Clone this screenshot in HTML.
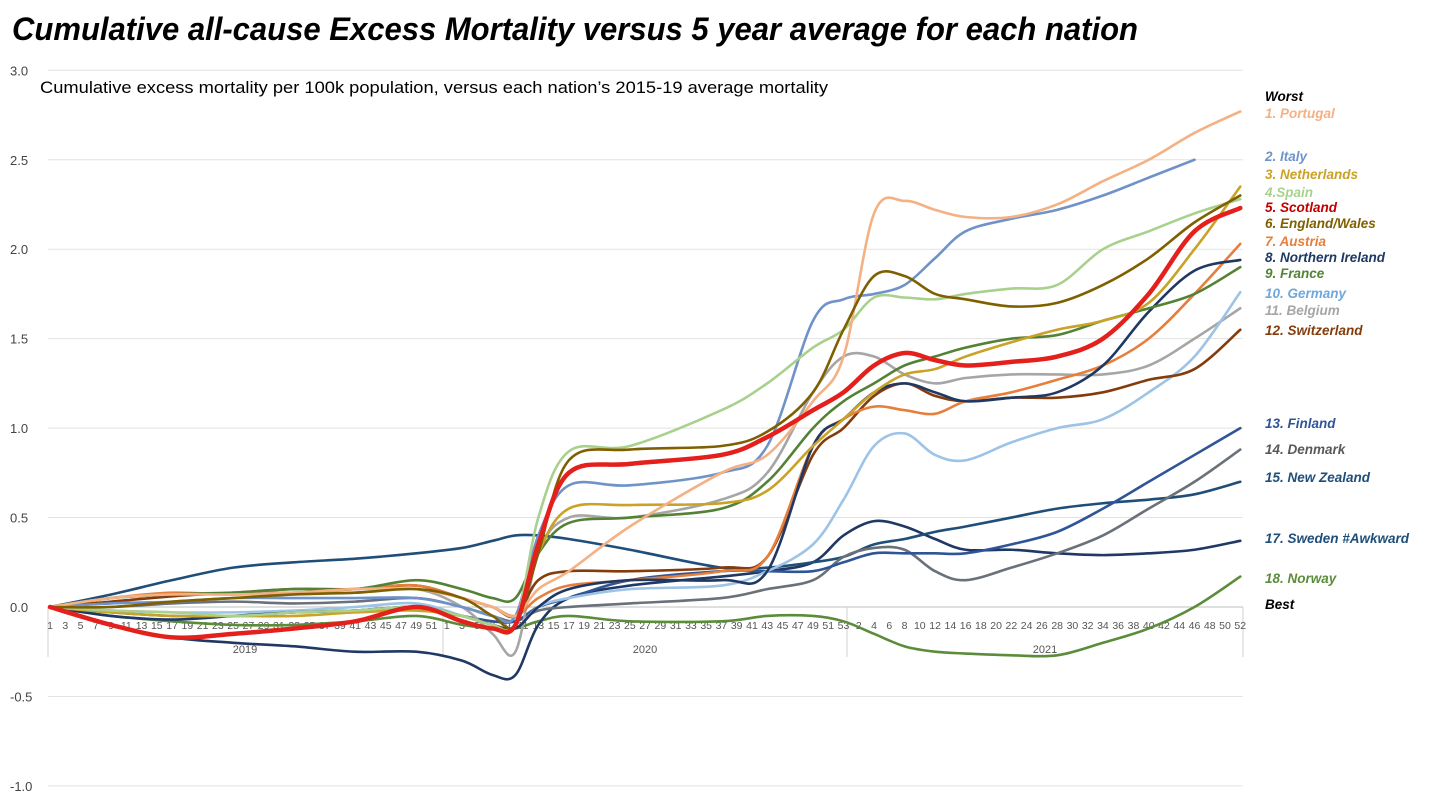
<!DOCTYPE html>
<html><head><meta charset="utf-8"><style>
body{margin:0;background:#fff;width:1430px;height:803px;overflow:hidden;font-family:"Liberation Sans",sans-serif}
</style></head><body>
<svg id="chart" width="1430" height="803" xmlns="http://www.w3.org/2000/svg" font-family="Liberation Sans, sans-serif">
<text x="12" y="40" font-size="32" font-weight="bold" font-style="italic" fill="#000" textLength="1126" lengthAdjust="spacingAndGlyphs">Cumulative all-cause Excess Mortality versus 5 year average for each nation</text>
<text x="40" y="93" font-size="17" fill="#000" textLength="788" lengthAdjust="spacingAndGlyphs">Cumulative excess mortality per 100k population, versus each nation’s 2015-19 average mortality</text>
<g id="grid"></g><g id="axis"></g><g id="lines"></g><g id="legend"></g>
</svg>
<script>
const yTicks=[3.0,2.5,2.0,1.5,1.0,0.5,0.0,-0.5,-1.0];
const sampleWeeks=[0,8,16,24,32,40,48,54,58,61,64,68,76,88,94,100,104,108,112,116,120,126,132,138,144,150,156];
const names=["Portugal","Italy","Netherlands","Spain","Scotland","England/Wales","Austria","Northern Ireland","France","Germany","Belgium","Switzerland","Finland","Denmark","New Zealand","Sweden","Norway"];
const portugal=[0,0.05,0.07,0.07,0.08,0.1,0.1,0.05,0.0,-0.05,0.1,0.2,0.45,0.75,0.85,1.15,1.4,2.2,2.27,2.22,2.18,2.18,2.25,2.38,2.5,2.65,2.77];
const italy=[0,0.02,0.03,0.05,0.05,0.05,0.05,0.0,-0.05,-0.05,0.4,0.68,0.68,0.75,0.9,1.6,1.72,1.75,1.8,1.95,2.1,2.17,2.22,2.3,2.4,2.5,null];
const netherlands=[0,-0.03,-0.05,-0.05,-0.05,-0.03,-0.02,-0.05,-0.1,-0.1,0.3,0.55,0.57,0.58,0.65,0.9,1.05,1.2,1.3,1.33,1.4,1.48,1.55,1.6,1.7,2.0,2.35];
const spain=[0,-0.02,-0.03,-0.05,-0.03,-0.02,0,-0.05,-0.1,-0.1,0.5,0.87,0.9,1.1,1.25,1.45,1.55,1.73,1.73,1.72,1.75,1.78,1.8,2.0,2.1,2.2,2.28];
const scotland=[0,-0.1,-0.17,-0.15,-0.12,-0.08,0.0,-0.08,-0.12,-0.1,0.35,0.75,0.8,0.85,0.95,1.1,1.2,1.35,1.42,1.38,1.35,1.37,1.4,1.5,1.75,2.1,2.23];
const englandWales=[0,0.0,0.03,0.05,0.07,0.08,0.1,0.05,-0.05,-0.1,0.3,0.82,0.88,0.9,0.98,1.2,1.55,1.85,1.85,1.75,1.72,1.68,1.7,1.8,1.95,2.15,2.3];
const austria=[0,0.05,0.08,0.07,0.08,0.1,0.12,0.05,0.0,-0.05,0.05,0.12,0.15,0.2,0.28,0.9,1.05,1.12,1.1,1.08,1.15,1.2,1.27,1.35,1.5,1.75,2.03];
const nIreland=[0,-0.05,-0.07,-0.05,-0.03,-0.02,0.0,-0.05,-0.1,-0.12,0.0,0.1,0.15,0.15,0.2,0.9,1.05,1.2,1.25,1.2,1.15,1.17,1.2,1.35,1.65,1.88,1.94];
const france=[0,0.05,0.07,0.08,0.1,0.1,0.15,0.1,0.05,0.05,0.3,0.47,0.5,0.55,0.7,1.0,1.15,1.25,1.35,1.4,1.45,1.5,1.52,1.6,1.67,1.75,1.9];
const germany=[0,-0.02,-0.03,-0.03,-0.02,0.0,0.02,-0.05,-0.1,-0.12,0.0,0.05,0.1,0.12,0.2,0.35,0.6,0.9,0.97,0.85,0.82,0.92,1.0,1.05,1.2,1.4,1.76];
const belgium=[0,0.05,0.07,0.08,0.08,0.08,0.1,0.0,-0.15,-0.25,0.3,0.5,0.5,0.6,0.75,1.2,1.4,1.4,1.3,1.25,1.28,1.3,1.3,1.3,1.35,1.5,1.67];
const switzerland=[0,0.03,0.06,0.08,0.1,0.1,0.12,0.05,0.0,-0.05,0.15,0.2,0.2,0.22,0.28,0.85,1.0,1.18,1.25,1.18,1.15,1.17,1.17,1.2,1.27,1.33,1.55];
const finland=[0,-0.03,-0.05,-0.05,-0.03,-0.02,0.0,-0.05,-0.08,-0.08,0.0,0.05,0.15,0.2,0.2,0.2,0.25,0.3,0.3,0.3,0.3,0.35,0.42,0.55,0.7,0.85,1.0];
const denmark=[0,0.0,0.02,0.03,0.02,0.03,0.05,0.0,-0.05,-0.08,-0.02,0.0,0.02,0.05,0.1,0.15,0.28,0.33,0.32,0.2,0.15,0.22,0.3,0.4,0.55,0.7,0.88];
const newZealand=[0,0.07,0.15,0.22,0.25,0.27,0.3,0.33,0.37,0.4,0.4,0.38,0.32,0.22,0.22,0.25,0.28,0.35,0.38,0.42,0.45,0.5,0.55,0.58,0.6,0.63,0.7];
const sweden=[0,-0.1,-0.17,-0.2,-0.22,-0.25,-0.25,-0.3,-0.38,-0.38,-0.1,0.05,0.12,0.17,0.2,0.25,0.4,0.48,0.45,0.38,0.32,0.32,0.3,0.29,0.3,0.32,0.37];
const norway=[0,-0.05,-0.08,-0.1,-0.1,-0.08,-0.05,-0.1,-0.12,-0.12,-0.08,-0.05,-0.08,-0.08,-0.05,-0.05,-0.08,-0.15,-0.22,-0.25,-0.26,-0.27,-0.27,-0.2,-0.12,0.0,0.17];
const legendLabels=["Worst","1. Portugal","2. Italy","3. Netherlands","4.Spain","5. Scotland","6. England/Wales","7. Austria","8. Northern Ireland","9. France","10. Germany","11. Belgium","12. Switzerland","13. Finland","14. Denmark","15. New Zealand","17. Sweden #Awkward","18. Norway","Best"];

const series=[portugal,italy,netherlands,spain,scotland,englandWales,austria,nIreland,france,germany,belgium,switzerland,finland,denmark,newZealand,sweden,norway];
const colors=["#f4b183","#6f93c9","#c9a227","#a9d18e","#e3201b","#7f6000","#e67e3c","#1f3864","#548235","#9dc3e6","#a6a6a6","#843c0c","#2f5597","#6a717a","#1f4e79","#203864","#5b8c3a"];
const legendY=[96,113,156,174,192,207,223,241,257,273,293,310,330,423,449,477,538,578,604];
const legendCol=["#000","#f4b183","#6f93c9","#c9a227","#a9d18e","#c00000","#7f6000","#e67e3c","#1f3864","#548235","#6fa8dc","#a6a6a6","#843c0c","#2f5597","#595959","#1f4e79","#1f4e79","#5b8c3a","#000"];
const NS="http://www.w3.org/2000/svg";
const X0=50,XW=7.63,Y0=607,YS=178.9;
const xs=i=>X0+i*XW, ys=v=>Y0-v*YS;
function mk(tag,attrs,parent){const e=document.createElementNS(NS,tag);for(const k in attrs)e.setAttribute(k,attrs[k]);parent.appendChild(e);return e;}
const grid=document.getElementById('grid'),axis=document.getElementById('axis'),lines=document.getElementById('lines'),leg=document.getElementById('legend');
yTicks.forEach(t=>{
  if(t!==0){const l=mk('line',{x1:48,x2:1243,y1:ys(t),y2:ys(t),stroke:'#e3e3e3','stroke-width':1},grid);
  
  }
  const tx=mk('text',{x:10,y:ys(t)+5,'font-size':13,fill:'#444'},axis);
  tx.textContent=t.toFixed(1);
  
  
});
const base=mk('line',{x1:48,x2:1243,y1:Y0,y2:Y0,stroke:'#bfbfbf'},axis);


[48,443,847,1243].forEach(x=>{const s=mk('line',{x1:x,x2:x,y1:Y0,y2:657,stroke:'#d0d0d0'},axis);

});
const years=[["2019",245],["2020",645],["2021",1045]];
years.forEach(y=>{const t=mk('text',{x:y[1],y:653,'font-size':11,fill:'#555','text-anchor':'middle'},axis);t.textContent=y[0];

});
function wk(idx,label){const t=mk('text',{x:xs(idx),y:629,'font-size':10.5,fill:'#555','text-anchor':'middle'},axis);t.textContent=label;

}
for(let w=1;w<=51;w+=2)wk(w-1,w);
for(let w=1;w<=53;w+=2)wk(52+w-1,w);
for(let w=2;w<=52;w+=2)wk(105+w-1,w);
function path(vals){
  const pts=[];vals.forEach((v,i)=>{if(v!==null)pts.push([xs(sampleWeeks[i]),ys(v)]);});
  let d='M'+pts[0][0]+','+pts[0][1];
  for(let i=0;i<pts.length-1;i++){
    const p0=pts[i-1]||pts[i],p1=pts[i],p2=pts[i+1],p3=pts[i+2]||p2;
    const c1=[p1[0]+(p2[0]-p0[0])/6,p1[1]+(p2[1]-p0[1])/6],c2=[p2[0]-(p3[0]-p1[0])/6,p2[1]-(p3[1]-p1[1])/6];
    d+=` C${c1[0]},${c1[1]} ${c2[0]},${c2[1]} ${p2[0]},${p2[1]}`;
  }
  return d;
}
const order=[16,15,14,13,12,10,9,11,6,7,8,2,1,3,0,5,4];
order.forEach(i=>{
  const p=mk('path',{d:path(series[i]),fill:'none',stroke:colors[i],'stroke-width':i===4?4.5:2.6,'stroke-linejoin':'round','stroke-linecap':'round'},lines);
  
  
});
legendLabels.forEach((s,i)=>{
  const t=mk('text',{x:1265,y:legendY[i]+5,'font-size':13.5,'font-weight':'bold','font-style':'italic',fill:legendCol[i]},leg);
  t.textContent=s;
  
  
});
</script>
</body></html>
